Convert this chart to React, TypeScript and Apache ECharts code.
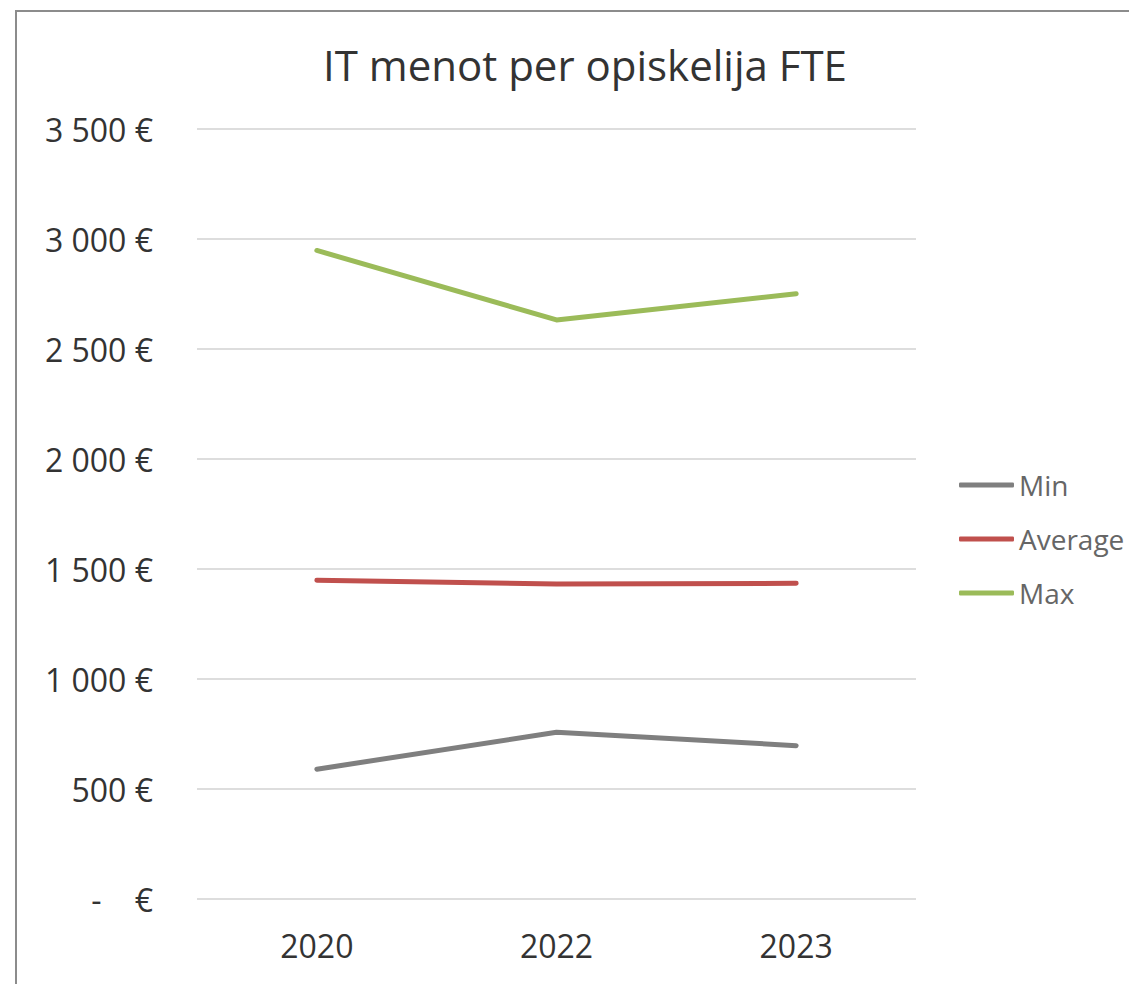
import React, { useEffect, useRef } from "react";
import * as echarts from "echarts";

const categories = ["2020", "2022", "2023"];
const minValues = [590, 758, 697];
const averageValues = [1449, 1432, 1435];
const maxValues = [2948, 2632, 2751];
const seriesNames = ["Min", "Average", "Max"];
const seriesColors = ["#7f7f7f", "#c0504d", "#9bbb59"];
const titleText = "IT menot per opiskelija FTE";

const FONT = "'Open Sans', sans-serif";

function formatEuro(v: number): string {
  if (v === 0) return "-    €";
  const s = String(v);
  const parts: string[] = [];
  let rest = s;
  while (rest.length > 3) {
    parts.unshift(rest.slice(-3));
    rest = rest.slice(0, -3);
  }
  parts.unshift(rest);
  return parts.join(" ") + " €";
}

export default function App() {
  const ref = useRef<HTMLDivElement>(null);
  useEffect(() => {
    if (!ref.current) return;
    const chart = echarts.init(ref.current, undefined, { renderer: "svg" });
    const data = [minValues, averageValues, maxValues];
    chart.setOption({
      animation: false,
      backgroundColor: "#ffffff",
      title: {
        text: titleText,
        left: 318,
        top: 38,
        textStyle: { fontFamily: FONT, fontSize: 42, fontWeight: "normal", color: "#333333" },
      },
      graphic: [
        {
          type: "rect",
          x: 16,
          y: 11,
          shape: { x: 0, y: 0, width: 1300, height: 1100 },
          style: { fill: "none", stroke: "#8c8c8c", lineWidth: 2 },
          z: -1,
          silent: true,
        },
      ],
      legend: {
        orient: "vertical",
        left: 954,
        top: 466,
        itemWidth: 55,
        itemHeight: 5,
        itemGap: 26,
        icon: "roundRect",
        textStyle: { fontFamily: FONT, fontSize: 28, color: "#666666" },
        data: seriesNames,
      },
      grid: { left: 197, right: 213, top: 129, bottom: 85, containLabel: false },
      xAxis: {
        type: "category",
        data: categories,
        boundaryGap: true,
        axisLine: { show: false },
        axisTick: { show: false },
        axisLabel: { fontFamily: FONT, fontSize: 32, color: "#333333", margin: 30 },
      },
      yAxis: {
        type: "value",
        min: 0,
        max: 3500,
        interval: 500,
        axisLine: { show: false },
        axisTick: { show: false },
        axisLabel: {
          fontFamily: FONT,
          fontSize: 32,
          color: "#333333",
          margin: 44,
          formatter: (v: number) => formatEuro(v),
        },
        splitLine: { lineStyle: { color: "#dddddd", width: 2 } },
      },
      series: seriesNames.map((name, i) => ({
        name,
        type: "line",
        data: data[i],
        symbol: "none",
        itemStyle: { color: seriesColors[i] },
        lineStyle: { color: seriesColors[i], width: 5, cap: "round", join: "round" },
      })),
    });
    return () => chart.dispose();
  }, []);
  return (
    <div
      ref={ref}
      style={{ position: "fixed", left: 0, top: 0, width: 1129, height: 984 }}
    />
  );
}
